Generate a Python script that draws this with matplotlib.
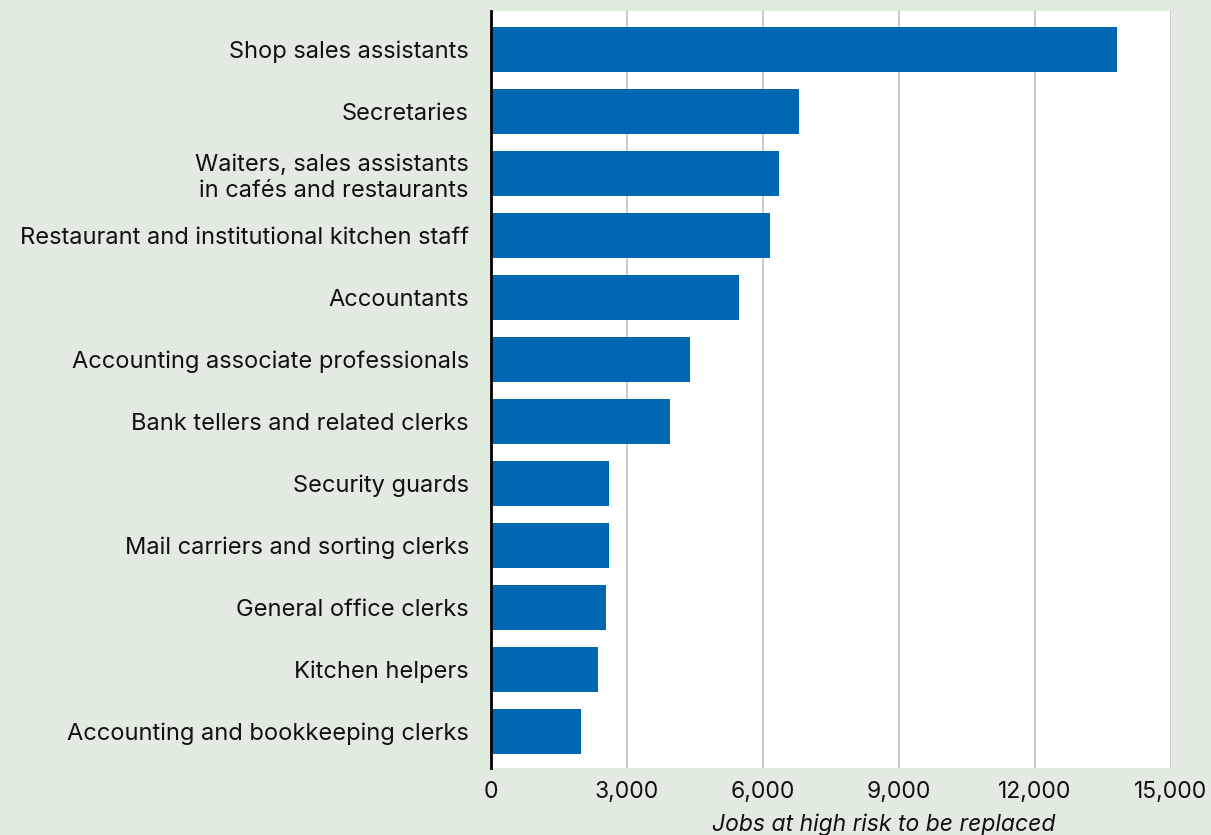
import matplotlib.pyplot as plt
from matplotlib.ticker import FuncFormatter

occupations = [
    "Shop sales assistants",
    "Secretaries",
    "Waiters, sales assistants\nin cafés and restaurants",
    "Restaurant and institutional kitchen staff",
    "Accountants",
    "Accounting associate professionals",
    "Bank tellers and related clerks",
    "Security guards",
    "Mail carriers and sorting clerks",
    "General office clerks",
    "Kitchen helpers",
    "Accounting and bookkeeping clerks",
]
jobs = [13800, 6800, 6350, 6150, 5470, 4390, 3950, 2600, 2600, 2540, 2360, 1990]
xticks = [0, 3000, 6000, 9000, 12000, 15000]

bg = "#e1ebe0"
blue = "#0068b2"

plt.rcParams["font.family"] = ["Inter", "DejaVu Sans"]

fig = plt.figure(figsize=(12.11, 8.35), dpi=100, facecolor=bg)
ax = fig.add_axes([0.4055, 0.0802, 0.5615, 0.9066])
ax.set_facecolor("white")

ypos = list(range(len(jobs)))
ax.barh(ypos, jobs, height=0.725, color=blue, zorder=3)
ax.set_yticks(ypos)
ax.set_yticklabels(occupations, fontsize=17, color="#111111", linespacing=1.25)
ax.set_ylim(len(jobs) - 0.41, -0.62)

ax.set_xlim(0, 15000)
ax.set_xticks(xticks)
ax.xaxis.set_major_formatter(FuncFormatter(lambda v, p: f"{int(v):,}"))
ax.tick_params(axis="x", length=0, pad=9, labelsize=16.5, colors="#111111")
ax.tick_params(axis="y", length=0, pad=16)
ax.grid(axis="x", color="#c8c8c8", linewidth=1.3, zorder=0)

for side in ["top", "bottom", "right"]:
    ax.spines[side].set_visible(False)
ax.spines["left"].set_linewidth(2)
ax.spines["left"].set_color("black")
ax.spines["left"].set_zorder(4)

ax.set_xlabel("Jobs at high risk to be replaced", fontsize=16.5, style="italic",
              color="#111111", x=0.577, labelpad=8)

fig.savefig("out.png", dpi=100, facecolor=bg)
